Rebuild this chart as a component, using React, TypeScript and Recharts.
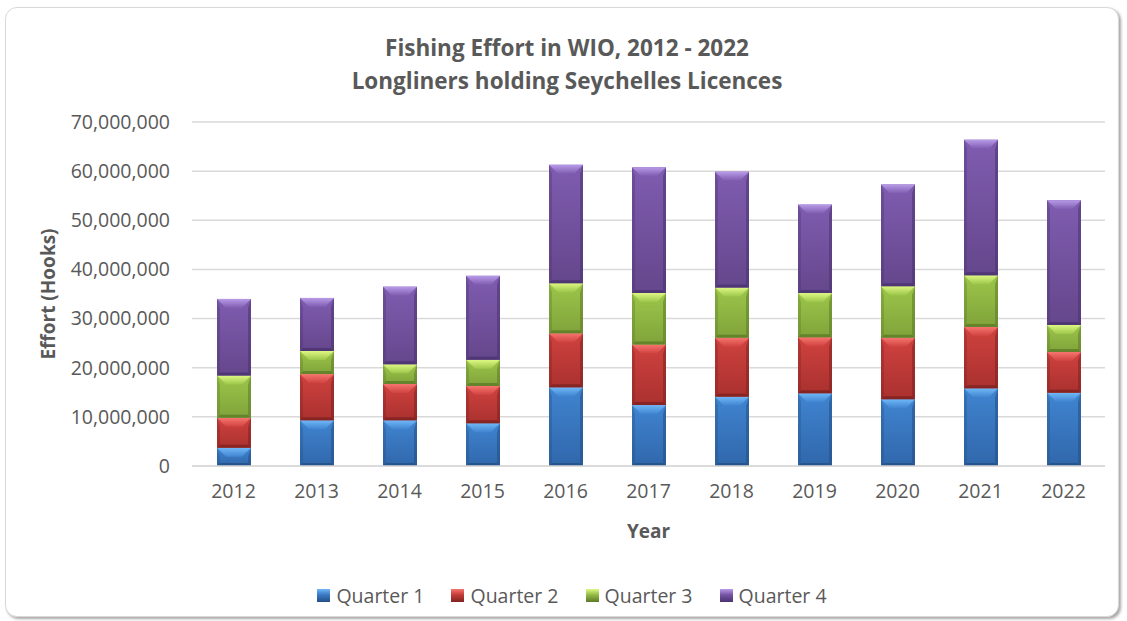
import React from 'react';
import { BarChart, Bar, XAxis, YAxis, CartesianGrid, Legend } from 'recharts';

const years = ['2012', '2013', '2014', '2015', '2016', '2017', '2018', '2019', '2020', '2021', '2022'];
const quarter1 = [3.7, 9.3, 9.3, 8.7, 16.0, 12.4, 14.1, 14.8, 13.6, 15.8, 14.9];
const quarter2 = [6.1, 9.4, 7.4, 7.6, 11.0, 12.3, 12.0, 11.4, 12.5, 12.5, 8.3];
const quarter3 = [8.6, 4.7, 4.0, 5.3, 10.2, 10.5, 10.2, 9.0, 10.5, 10.5, 5.5];
const quarter4 = [15.6, 10.8, 15.8, 17.1, 24.1, 25.6, 23.6, 18.0, 20.7, 27.6, 25.4];
const yTicks = [0, 10000000, 20000000, 30000000, 40000000, 50000000, 60000000, 70000000];
const seriesNames = ['Quarter 1', 'Quarter 2', 'Quarter 3', 'Quarter 4'];

const data = years.map((y, i) => ({
  year: y,
  q1: quarter1[i] * 1e6,
  q2: quarter2[i] * 1e6,
  q3: quarter3[i] * 1e6,
  q4: quarter4[i] * 1e6,
}));

const palette: Record<string, { base: string; top: string; bottom: string; light: string; dark: string }> = {
  q1: { base: '#3a78c4', top: '#4084d0', bottom: '#3067ab', light: '#70b8f7', dark: '#244f85' },
  q2: { base: '#c43b38', top: '#cf423f', bottom: '#aa312f', light: '#f7756f', dark: '#7e2220' },
  q3: { base: '#93bb44', top: '#9cc64a', bottom: '#80a33a', light: '#def883', dark: '#5d7a28' },
  q4: { base: '#7654a3', top: '#7f5cb0', bottom: '#65478c', light: '#b89be9', dark: '#4a3370' },
};

const FONT = '"Open Sans", sans-serif';
const TEXT = '#595959';

function makeShape(key: string) {
  return (props: any) => {
    const { x, y, width: w, height: h, index } = props;
    if (!h || h <= 0) return null;
    const c = palette[key];
    const bt = Math.min(9, h / 2);
    const bs = Math.min(3, w / 4);
    const bb = Math.min(3, h / 4);
    const id = `grad-${key}-${index}`;
    const idt = `gradt-${key}-${index}`;
    return (
      <g>
        <defs>
          <linearGradient id={id} x1="0" y1="0" x2="0" y2="1">
            <stop offset="0%" stopColor={c.top} />
            <stop offset="100%" stopColor={c.bottom} />
          </linearGradient>
          <linearGradient id={idt} x1="0" y1="0" x2="0" y2="1">
            <stop offset="0%" stopColor={c.light} />
            <stop offset="100%" stopColor={c.top} />
          </linearGradient>
        </defs>
        <rect x={x} y={y} width={w} height={h} fill={`url(#${id})`} />
        <polygon
          points={`${x},${y} ${x + bs},${y + bt} ${x + bs},${y + h - bb} ${x},${y + h}`}
          fill={c.dark}
          opacity={0.35}
        />
        <polygon
          points={`${x + w},${y} ${x + w - bs},${y + bt} ${x + w - bs},${y + h - bb} ${x + w},${y + h}`}
          fill={c.dark}
          opacity={0.55}
        />
        <polygon
          points={`${x},${y} ${x + w},${y} ${x + w - Math.min(bt, w / 3)},${y + bt} ${x + Math.min(bt, w / 3)},${y + bt}`}
          fill={`url(#${idt})`}
        />
        <polygon
          points={`${x},${y + h} ${x + bs},${y + h - bb} ${x + w - bs},${y + h - bb} ${x + w},${y + h}`}
          fill={c.dark}
          opacity={0.8}
        />
      </g>
    );
  };
}

const keys = ['q1', 'q2', 'q3', 'q4'];

const LegendContent = () => (
  <div
    style={{
      display: 'flex',
      justifyContent: 'center',
      alignItems: 'center',
      height: 30,
      fontFamily: FONT,
      fontSize: 19.5,
      color: TEXT,
      paddingLeft: 17,
    }}
  >
    {keys.map((k, i) => (
      <div key={k} style={{ display: 'flex', alignItems: 'center', marginRight: i < 3 ? 27 : 0 }}>
        <div
          style={{
            width: 13,
            height: 13,
            background: `linear-gradient(180deg, ${palette[k].light} 0%, ${palette[k].base} 45%, ${palette[k].dark} 100%)`,
            marginRight: 6,
          }}
        />
        <span>{seriesNames[i]}</span>
      </div>
    ))}
  </div>
);

export default function App() {
  return (
    <div style={{ position: 'absolute', left: 0, top: 0, width: 1127, height: 621, background: '#fff' }}>
      <div
        style={{
          position: 'absolute',
          left: 5,
          top: 7,
          width: 1112,
          height: 608,
          border: '1px solid #d9d9d9',
          borderRadius: 12,
          boxShadow: '2px 2px 3px rgba(0,0,0,0.35)',
          background: '#fff',
        }}
      />
      <div
        style={{
          position: 'absolute',
          left: 0,
          top: 31,
          width: 1134,
          textAlign: 'center',
          fontFamily: FONT,
          fontWeight: 700,
          fontSize: 22.5,
          lineHeight: '33px',
          color: TEXT,
        }}
      >
        <div>Fishing Effort in WIO, 2012 - 2022</div>
        <div>Longliners holding Seychelles Licences</div>
      </div>
      <div style={{ position: 'absolute', left: 0, top: 0 }}>
        <BarChart
          width={1127}
          height={621}
          data={data}
          margin={{ top: 122, right: 22, left: 0, bottom: 35 }}
        >
          <CartesianGrid vertical={false} stroke="#d9d9d9" strokeWidth={1.5} />
          <XAxis
            dataKey="year"
            height={90}
            tickLine={false}
            axisLine={{ stroke: '#d9d9d9', strokeWidth: 1.5 }}
            tickSize={0}
            tickMargin={18}
            tick={{ fill: TEXT, fontFamily: FONT, fontSize: 19.5 }}
            label={{
              content: (p: any) => {
                const vb = p.viewBox;
                const cx = vb.x + vb.width / 2;
                return (
                  <text
                    x={cx}
                    y={531}
                    textAnchor="middle"
                    dominantBaseline="central"
                    fill={TEXT}
                    fontFamily={FONT}
                    fontWeight={700}
                    fontSize={19}
                  >
                    Year
                  </text>
                );
              },
            }}
          />
          <YAxis
            width={192}
            domain={[0, 70000000]}
            ticks={yTicks}
            tickLine={false}
            axisLine={false}
            tickSize={0}
            tickMargin={22}
            tick={{ fill: TEXT, fontFamily: FONT, fontSize: 19.5 }}
            tickFormatter={(v: number) => v.toLocaleString('en-US')}
            label={{
              content: (p: any) => {
                const vb = p.viewBox;
                const cy = vb.y + vb.height / 2;
                return (
                  <text
                    x={48}
                    y={cy}
                    transform={`rotate(-90 48 ${cy})`}
                    textAnchor="middle"
                    dominantBaseline="central"
                    fill={TEXT}
                    fontFamily={FONT}
                    fontWeight={700}
                    fontSize={19}
                  >
                    Effort (Hooks)
                  </text>
                );
              },
            }}
          />
          <Legend
            verticalAlign="bottom"
            height={30}
            content={<LegendContent />}
            wrapperStyle={{ bottom: 11, left: 0, width: 1127, height: 30 }}
          />
          {keys.map((k, i) => (
            <Bar
              key={k}
              dataKey={k}
              name={seriesNames[i]}
              stackId="a"
              barSize={34}
              fill={palette[k].base}
              shape={makeShape(k)}
              isAnimationActive={false}
            />
          ))}
        </BarChart>
      </div>
    </div>
  );
}
